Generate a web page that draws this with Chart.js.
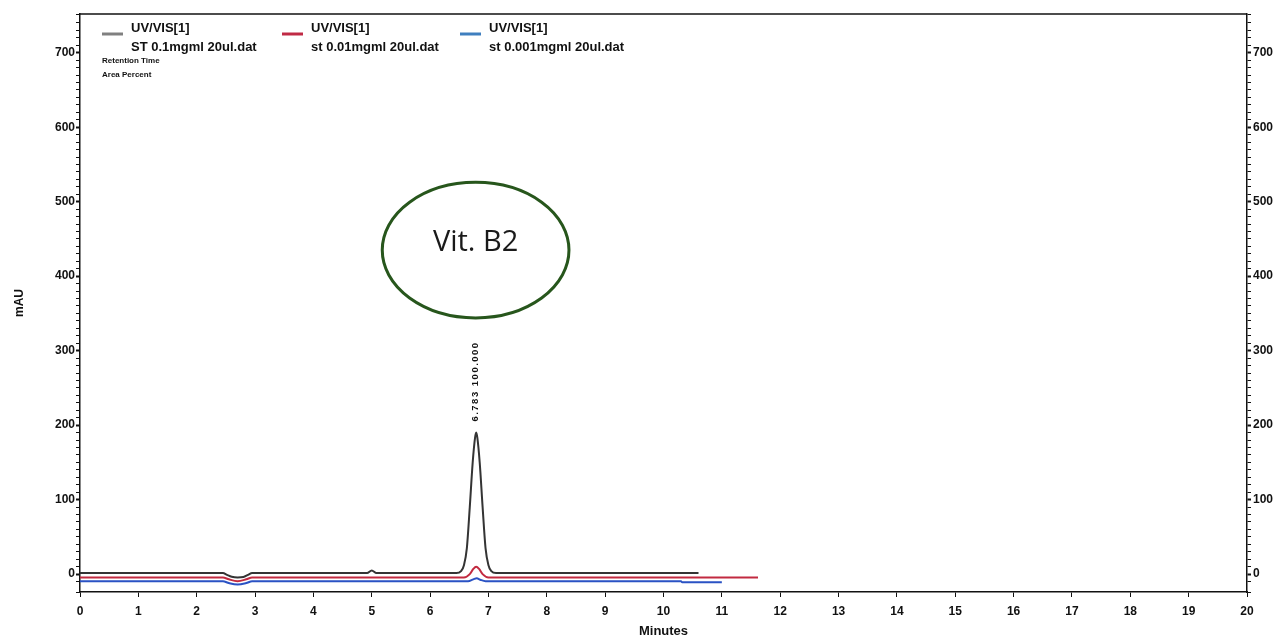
<!DOCTYPE html>
<html>
<head>
<meta charset="utf-8">
<script src="https://cdn.jsdelivr.net/npm/chart.js@4"></script>
<style>
  html, body { margin: 0; padding: 0; background: #fff; }
</style>
</head>
<body>
<canvas id="chromChart" width="1274" height="638"></canvas>
<script>
// chromatogram traces (minutes / mAU)
const grayTimes  = [0, 2.45, 2.52, 2.6, 2.7, 2.8, 2.88, 2.95, 4.92, 5.0, 5.08, 6.45, 6.53, 6.58, 6.63, 6.68, 6.73, 6.77, 6.79, 6.81, 6.85, 6.9, 6.95, 7.0, 7.05, 7.13, 10.6];
const grayValues = [1.5, 1.5, -1, -3.5, -4.5, -4, -1, 1.5, 1.5, 5, 1.5, 1.5, 4, 12, 35, 90, 150, 183, 190, 183, 150, 90, 35, 12, 4, 1.5, 1.5];

const redTimes  = [0, 2.45, 2.55, 2.7, 2.85, 2.95, 6.58, 6.68, 6.74, 6.79, 6.84, 6.9, 7.0, 11.62];
const redValues = [-4.5, -4.5, -7, -9.5, -7, -4.5, -4.5, 0, 7, 10, 7, 0, -4.5, -4.5];

const blueTimes  = [0, 2.45, 2.55, 2.7, 2.85, 2.95, 6.65, 6.74, 6.8, 6.86, 6.95, 10.3, 10.32, 11.0];
const blueValues = [-9.5, -9.5, -12, -14, -12, -9.5, -9.5, -7, -5.5, -7.5, -9.5, -9.5, -11, -11];

const seriesNames = ['UV/VIS[1]', 'UV/VIS[1]', 'UV/VIS[1]'];
const fileNames = ['ST 0.1mgml 20ul.dat', 'st 0.01mgml 20ul.dat', 'st 0.001mgml 20ul.dat'];
const seriesColors = ['#343434', '#c22a40', '#2a52c4'];
const swatchColors = ['#808080', '#c02a45', '#3f7fbf'];
const reportLines = ['Retention Time', 'Area Percent'];

const yTickLabels = [0, 100, 200, 300, 400, 500, 600, 700];

// peak annotation
const peakTime = 6.783;
const peakHeight = 190;
const peakLabel = '6.783 100.000';
const compoundName = 'Vit. B2';

function toPoints(times, values) {
  return times.map((t, i) => ({ x: t, y: values[i] }));
}

// 주석 그리기 (legend, peak label, circled compound name)
const annotations = {
  id: 'annotations',
  afterDatasetsDraw(chart) {
    const { ctx, chartArea, scales: { x, y } } = chart;
    ctx.save();

    // top frame line
    ctx.strokeStyle = '#111';
    ctx.lineWidth = 1.5;
    ctx.beginPath();
    ctx.moveTo(chartArea.left, chartArea.top);
    ctx.lineTo(chartArea.right, chartArea.top);
    ctx.stroke();

    // legend
    const swatchX = [102, 282, 460];
    ctx.fillStyle = '#111';
    ctx.textBaseline = 'middle';
    ctx.textAlign = 'left';
    for (let i = 0; i < fileNames.length; i++) {
      ctx.strokeStyle = swatchColors[i];
      ctx.lineWidth = 3;
      ctx.beginPath();
      ctx.moveTo(swatchX[i], 34);
      ctx.lineTo(swatchX[i] + 21, 34);
      ctx.stroke();
      ctx.font = 'bold 13px "Liberation Sans", Arial, sans-serif';
      ctx.fillText(seriesNames[i], swatchX[i] + 29, 28);
      ctx.fillText(fileNames[i], swatchX[i] + 29, 47);
    }
    ctx.font = 'bold 8px "Liberation Sans", Arial, sans-serif';
    ctx.fillText(reportLines[0], 102, 61);
    ctx.fillText(reportLines[1], 102, 75);

    // ellipse around compound name
    const cx = x.getPixelForValue(6.78);
    const cy = y.getPixelForValue(435);
    const rx = x.getPixelForValue(6.78 + 1.6) - cx;
    const ry = cy - y.getPixelForValue(435 + 91);
    ctx.strokeStyle = '#27561c';
    ctx.lineWidth = 3;
    ctx.beginPath();
    ctx.ellipse(cx, cy, rx, ry, 0, 0, 2 * Math.PI);
    ctx.stroke();
    ctx.font = '29px "Open Sans", sans-serif';
    ctx.fillStyle = '#1a1a1a';
    ctx.textAlign = 'center';
    ctx.fillText(compoundName, cx, cy - 7);

    // rotated peak label
    const px = x.getPixelForValue(peakTime);
    const py = y.getPixelForValue(peakHeight);
    ctx.translate(px, py - 11);
    ctx.rotate(-Math.PI / 2);
    ctx.font = 'bold 9.5px "Liberation Sans", Arial, sans-serif';
    ctx.letterSpacing = '1.5px';
    ctx.fillStyle = '#111';
    ctx.textAlign = 'left';
    ctx.fillText(peakLabel, 0, 0);

    ctx.restore();
  }
};

const tickFont = { family: '"Liberation Sans", Arial, sans-serif', size: 12, weight: 'bold' };
const yLabel = (v) => (yTickLabels.includes(v) ? String(v) : '');
const yTickWidth = (c) => (c.tick && yTickLabels.includes(c.tick.value) ? 2 : 1);

const ctx = document.getElementById('chromChart').getContext('2d');
const chromChart = new Chart(ctx, {
  type: 'line',
  data: {
    datasets: [
      { label: fileNames[0], data: toPoints(grayTimes, grayValues), borderColor: seriesColors[0], borderWidth: 2 },
      { label: fileNames[1], data: toPoints(redTimes, redValues), borderColor: seriesColors[1], borderWidth: 2 },
      { label: fileNames[2], data: toPoints(blueTimes, blueValues), borderColor: seriesColors[2], borderWidth: 2 }
    ]
  },
  options: {
    responsive: false,
    animation: false,
    layout: { padding: { top: 14, left: 0, right: 0, bottom: 0 } },
    elements: {
      point: { radius: 0 },
      line: { cubicInterpolationMode: 'monotone' }
    },
    plugins: {
      legend: { display: false },
      tooltip: { enabled: false }
    },
    scales: {
      x: {
        type: 'linear',
        min: 0,
        max: 20,
        afterFit: (s) => { s.height = 46; },
        ticks: { stepSize: 1, color: '#111', font: tickFont, padding: 7, maxRotation: 0 },
        grid: { drawOnChartArea: false, tickLength: 5, color: '#111' },
        border: { color: '#111', width: 1.5 },
        title: {
          display: true, text: 'Minutes', color: '#111',
          font: { family: tickFont.family, size: 13, weight: 'bold', lineHeight: 1 },
          padding: { top: 0, bottom: 0 }
        }
      },
      y: {
        type: 'linear',
        position: 'left',
        min: -24,
        max: 752,
        afterFit: (s) => { s.width = 80; },
        ticks: { stepSize: 10, autoSkip: false, callback: yLabel, color: '#111', font: tickFont, padding: 1 },
        grid: { drawOnChartArea: false, tickLength: 4, color: '#111', tickWidth: yTickWidth },
        border: { color: '#111', width: 1.5 },
        title: {
          display: true, text: 'mAU', color: '#111',
          font: { family: tickFont.family, size: 12, weight: 'bold', lineHeight: 1.2 },
          padding: { top: 12, bottom: 0 }
        }
      },
      y2: {
        type: 'linear',
        position: 'right',
        min: -24,
        max: 752,
        afterFit: (s) => { s.width = 27; },
        ticks: { stepSize: 10, autoSkip: false, callback: yLabel, color: '#111', font: tickFont, padding: 2 },
        grid: { drawOnChartArea: false, tickLength: 4, color: '#111', tickWidth: yTickWidth },
        border: { color: '#111', width: 1.5 }
      }
    }
  },
  plugins: [annotations]
});
</script>
</body>
</html>
